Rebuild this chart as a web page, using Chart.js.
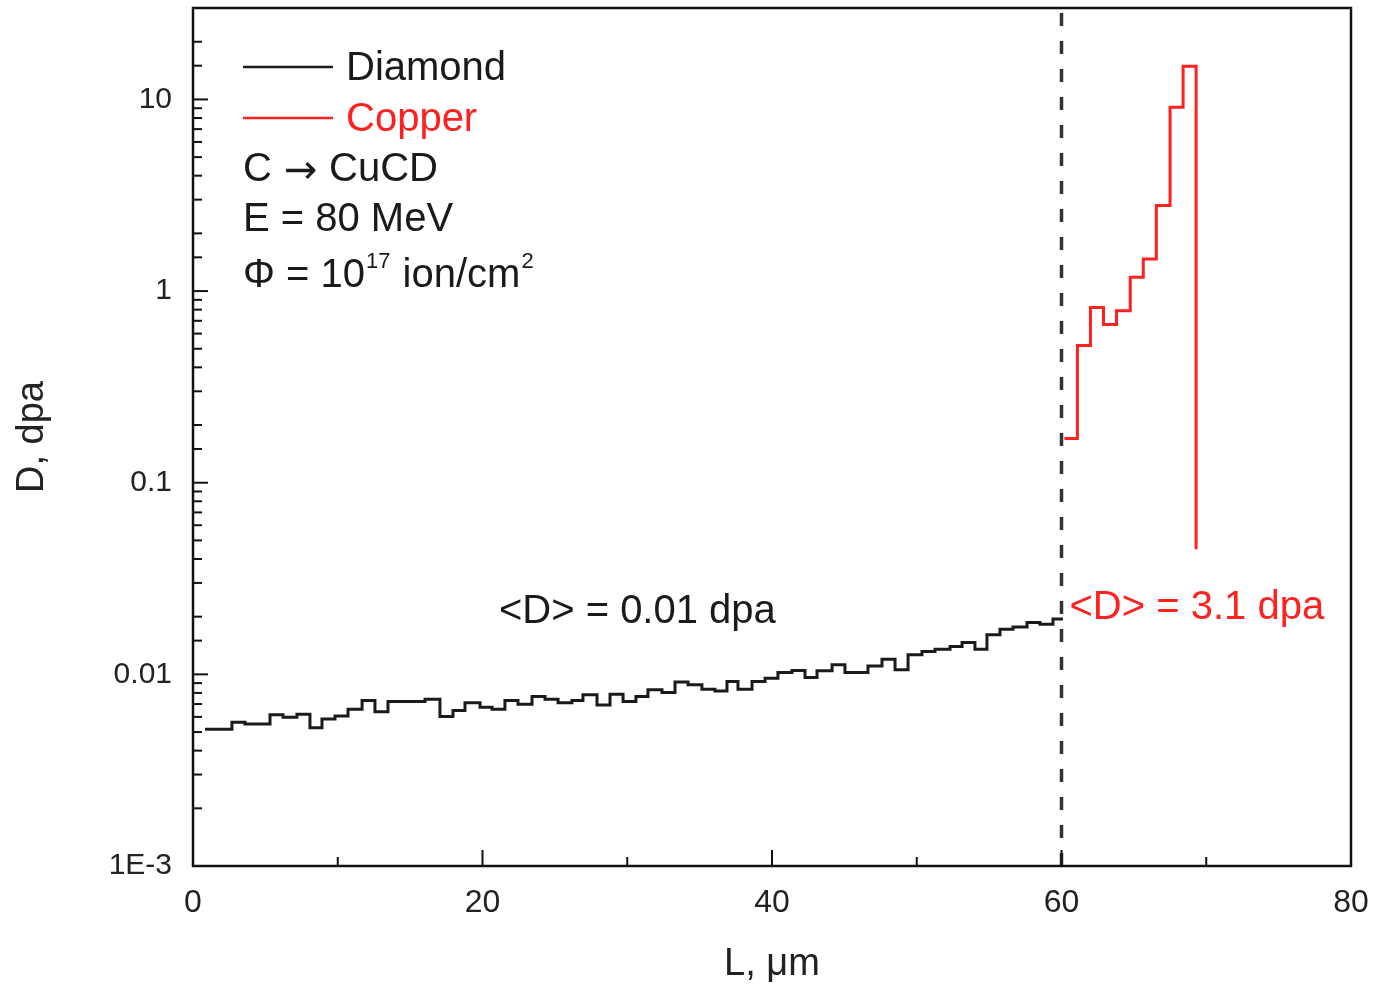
<!DOCTYPE html>
<html>
<head>
<meta charset="utf-8">
<script src="https://cdn.jsdelivr.net/npm/chart.js@4"></script>
<style>
  html, body { margin: 0; padding: 0; background: #fff; }
  #wrap { width: 1373px; height: 984px; }
</style>
</head>
<body>
<div id="wrap"><canvas id="dose"></canvas></div>
<script>
// depth L (um) of each histogram bin's left edge, last entry closes the final bin
const diamondL = [0.83, 2.69, 3.59, 5.32, 6.22, 7.18, 8.08, 8.91, 9.81, 10.71,
  11.68, 12.57, 13.47, 16.03, 17.06, 17.96, 18.79, 19.83, 20.66, 21.55,
  22.45, 23.42, 24.32, 25.22, 26.18, 26.94, 27.91, 28.81, 29.71, 30.6,
  31.43, 32.4, 33.3, 34.2, 35.16, 36.06, 36.89, 37.65, 38.62, 39.52,
  40.41, 41.38, 42.28, 43.11, 44.15, 45.04, 46.63, 47.6, 48.5, 49.4,
  50.36, 51.26, 52.3, 53.13, 54.02, 54.85, 55.75, 56.65, 57.62, 58.51,
  59.41, 60.1];
const diamondD = [0.00517, 0.00563, 0.00550, 0.00615, 0.00598, 0.00620, 0.00527, 0.00584, 0.00607, 0.00658,
  0.00730, 0.00639, 0.00721, 0.00742, 0.00602, 0.00647, 0.00712, 0.00674, 0.00658, 0.00730,
  0.00699, 0.00766, 0.00742, 0.00712, 0.00730, 0.00782, 0.00693, 0.00788, 0.00721, 0.00766,
  0.00830, 0.00804, 0.00911, 0.00882, 0.00837, 0.00820, 0.00917, 0.00837, 0.00917, 0.00955,
  0.01022, 0.01047, 0.00962, 0.01043, 0.01121, 0.01024, 0.01107, 0.01200, 0.01056, 0.01264,
  0.01315, 0.01354, 0.01397, 0.01466, 0.01354, 0.01608, 0.01722, 0.01764, 0.01865, 0.01828,
  0.01942];

const copperL = [60.2, 61.1, 62.0, 62.9, 63.8, 64.75, 65.65, 66.55, 67.5, 68.4, 69.3];
const copperD = [0.17, 0.52, 0.82, 0.67, 0.79, 1.18, 1.47, 2.8, 9.1, 14.9];
const copperTail = 0.045;   // value the last bin drops to at the end of the range

const boundaryL = 60;        // diamond / copper interface
const yDecades = [1e-3, 0.01, 0.1, 1, 10];
const yDecadeLabels = ['1E-3', '0.01', '0.1', '1', '10'];
const xMajor = [0, 20, 40, 60, 80];

const FONT = "'Liberation Sans', Arial, sans-serif";
const BLACK = '#1a1a1a';
const RED = '#ff2020';

function steps(xs, ys, tail) {
    let pts = ys.map((y, i) => ({x: xs[i], y: y}));
    pts.push({x: xs[xs.length - 1], y: ys[ys.length - 1]});
    if (tail !== undefined) pts.push({x: xs[xs.length - 1], y: tail});
    return pts;
}

function isDecade(v) {
    let l = Math.log10(v);
    return Math.abs(l - Math.round(l)) < 1e-6;
}

// box, inward ticks and the text blocks
const decor = {
    id: 'decor',
    afterDatasetsDraw(chart) {
        const ctx = chart.ctx;
        const a = chart.chartArea;
        const xs = chart.scales.x, ys = chart.scales.y;
        ctx.save();
        ctx.strokeStyle = '#111';
        ctx.lineWidth = 2.5;
        ctx.strokeRect(a.left, a.top, a.right - a.left, a.bottom - a.top);

        ctx.lineWidth = 2;
        ys.ticks.forEach(t => {
            let py = ys.getPixelForValue(t.value);
            if (py < a.top + 1) return;
            let len = isDecade(t.value) ? 15 : 9;
            ctx.beginPath();
            ctx.moveTo(a.left, py);
            ctx.lineTo(a.left + len, py);
            ctx.stroke();
        });
        xs.ticks.forEach(t => {
            let px = xs.getPixelForValue(t.value);
            let len = xMajor.includes(t.value) ? 16 : 9;
            ctx.beginPath();
            ctx.moveTo(px, a.bottom);
            ctx.lineTo(px, a.bottom - len);
            ctx.stroke();
        });

        // legend
        const ds = chart.data.datasets;
        const lx = a.left + 50;
        ctx.font = '40px ' + FONT;
        ctx.textBaseline = 'middle';
        ctx.textAlign = 'left';
        [0, 1].forEach((k, i) => {
            let cy = a.top + 59 + i * 51;
            ctx.strokeStyle = ds[k].borderColor;
            ctx.lineWidth = 2.5;
            ctx.beginPath();
            ctx.moveTo(lx, cy);
            ctx.lineTo(lx + 90, cy);
            ctx.stroke();
            ctx.fillStyle = ds[k].borderColor;
            ctx.fillText(ds[k].label, lx + 103, cy + 2);
        });

        ctx.fillStyle = BLACK;
        let cy = a.top + 162;
        ctx.fillText('C', lx, cy);
        ctx.font = "40px 'DejaVu Sans', sans-serif";
        ctx.fillText('\u2192', lx + 41, cy + 3);
        ctx.font = '40px ' + FONT;
        ctx.fillText('CuCD', lx + 86, cy);
        ctx.fillText('E = 80 MeV', lx, a.top + 212);
        let t1 = '\u03A6 = 10';
        ctx.fillText(t1, lx, a.top + 268);
        let w1 = ctx.measureText(t1).width;
        ctx.font = '22px ' + FONT;
        ctx.fillText('17', lx + w1 + 1, a.top + 254);
        let w2 = ctx.measureText('17').width;
        ctx.font = '40px ' + FONT;
        let t2 = ' ion/cm';
        ctx.fillText(t2, lx + w1 + w2 + 2, a.top + 268);
        let w3 = ctx.measureText(t2).width;
        ctx.font = '22px ' + FONT;
        ctx.fillText('2', lx + w1 + w2 + w3 + 3, a.top + 254);

        // mean dose labels
        ctx.font = '40px ' + FONT;
        ctx.textAlign = 'center';
        ctx.fillStyle = BLACK;
        ctx.fillText('<D> = 0.01 dpa', xs.getPixelForValue(30.7), a.top + 604);
        ctx.textAlign = 'left';
        ctx.fillStyle = RED;
        ctx.fillText('<D> = 3.1 dpa', xs.getPixelForValue(boundaryL) + 8, a.top + 600);
        ctx.restore();
    }
};

new Chart(document.getElementById('dose'), {
    type: 'line',
    data: {
        datasets: [{
            label: 'Diamond',
            data: steps(diamondL, diamondD),
            borderColor: BLACK,
            borderWidth: 3,
            stepped: 'before',
            pointRadius: 0
        }, {
            label: 'Copper',
            data: steps(copperL, copperD, copperTail),
            borderColor: RED,
            borderWidth: 3,
            stepped: 'before',
            pointRadius: 0
        }, {
            label: 'interface',
            data: [{x: boundaryL, y: 1e-3}, {x: boundaryL, y: 30}],
            borderColor: '#333',
            borderWidth: 3.5,
            borderDash: [13, 15],
            pointRadius: 0
        }]
    },
    options: {
        responsive: true,
        maintainAspectRatio: false,
        animation: false,
        layout: {padding: {left: 0, right: 22, top: 8, bottom: 0}},
        plugins: {legend: {display: false}, tooltip: {enabled: false}},
        scales: {
            x: {
                type: 'linear',
                min: 0, max: 80,
                border: {display: false},
                grid: {display: false, drawTicks: false},
                ticks: {
                    stepSize: 10,
                    autoSkip: false,
                    maxRotation: 0,
                    padding: 18,
                    color: '#222',
                    font: {family: FONT, size: 32},
                    callback: v => xMajor.includes(v) ? String(v) : ''
                },
                title: {
                    display: true,
                    text: 'L, \u03BCm',
                    color: '#222',
                    padding: {top: 0, bottom: 0},
                    font: {family: FONT, size: 38, lineHeight: 1}
                },
                afterFit: s => {
                    s.height = 118;
                    s.paddingLeft = 0;
                    s.paddingRight = 0;
                }
            },
            y: {
                type: 'logarithmic',
                min: 1e-3, max: 30,
                border: {display: false},
                grid: {display: false, drawTicks: false},
                ticks: {
                    autoSkip: false,
                    padding: 21,
                    color: '#222',
                    font: {family: FONT, size: 30},
                    callback: v => {
                        let i = yDecades.findIndex(d => Math.abs(Math.log10(d) - Math.log10(v)) < 1e-6);
                        return i >= 0 ? yDecadeLabels[i] : '';
                    }
                },
                title: {
                    display: true,
                    text: 'D, dpa',
                    color: '#222',
                    padding: {top: 14, bottom: 0},
                    font: {family: FONT, size: 38, lineHeight: 1}
                },
                afterFit: s => {
                    s.width = 193;
                    s.paddingTop = 0;
                    s.paddingBottom = 0;
                }
            }
        }
    },
    plugins: [decor]
});
</script>
</body>
</html>
